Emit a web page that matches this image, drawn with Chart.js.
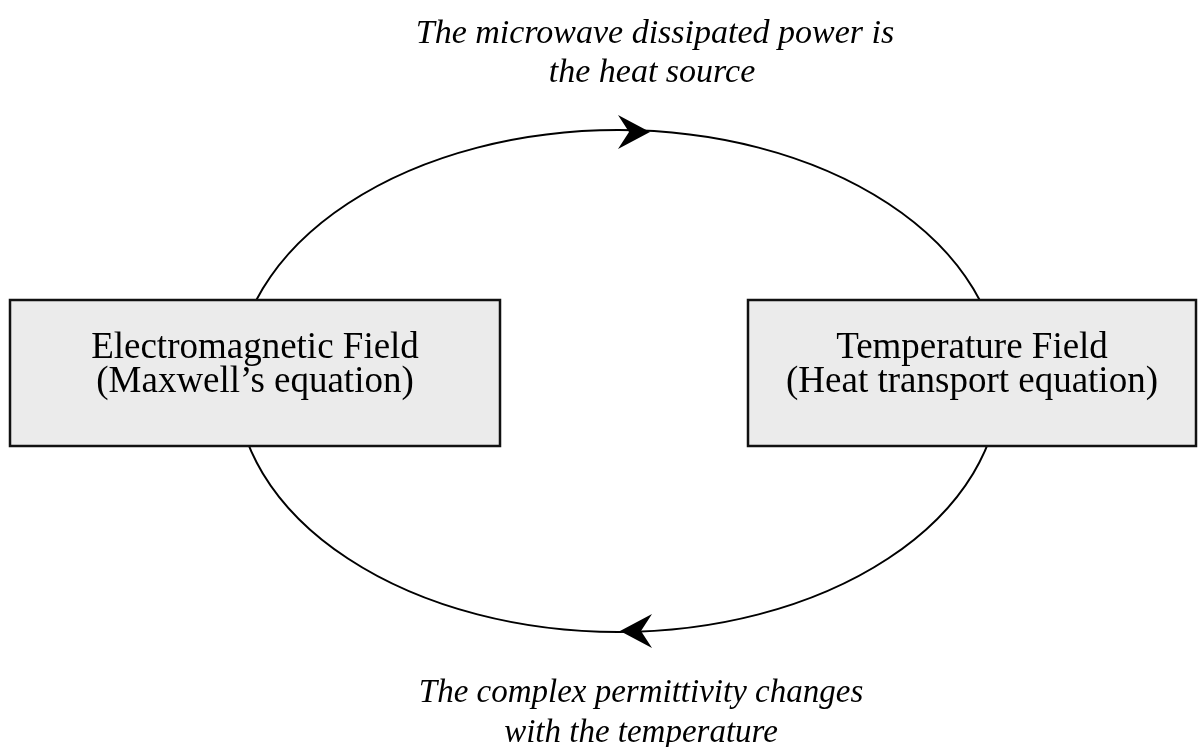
<!DOCTYPE html>
<html>
<head>
<meta charset="utf-8">
<script src="https://cdn.jsdelivr.net/npm/chart.js@4.4.1/dist/chart.umd.min.js"></script>
<style>
  html, body { margin: 0; background: #fff; }
  #wrap { width: 1198px; height: 747px; }
</style>
</head>
<body>
<div id="wrap"><canvas id="ciclo"></canvas></div>
<script>
// ---------------- datos del diagrama ----------------
const boxLabels = [
  ["Electromagnetic Field", "(Maxwell\u2019s equation)"],
  ["Temperature Field", "(Heat transport equation)"]
];
const boxLeft = [10, 748];
const boxRight = [500, 1196];
const boxTop = [300, 300];
const boxBottom = [446, 446];

const loopCenter = [618, 381];
const loopRadius = [382, 251];

const arrowTipX = [650, 620];
const arrowTipY = [132, 631];
const arrowDir = [1, -1];

const captionTop = ["The microwave dissipated power is", "the heat source"];
const captionBottom = ["The complex permittivity changes", "with the temperature"];

// ---------------- dibujo ----------------
const diagramPlugin = {
  id: 'diagrama',
  afterDatasetsDraw(chart) {
    const ctx = chart.ctx;
    const sx = chart.scales.x, sy = chart.scales.y;
    const px = v => sx.getPixelForValue(v);
    const py = v => sy.getPixelForValue(v);

    ctx.save();
    // elipse
    const cx = px(loopCenter[0]), cy = py(loopCenter[1]);
    const rx = Math.abs(px(loopCenter[0] + loopRadius[0]) - cx);
    const ry = Math.abs(py(loopCenter[1] + loopRadius[1]) - cy);
    ctx.strokeStyle = '#000';
    ctx.lineWidth = 2;
    ctx.beginPath();
    ctx.ellipse(cx, cy, rx, ry, 0, 0, Math.PI * 2);
    ctx.stroke();

    // flechas
    ctx.fillStyle = '#000';
    arrowTipX.forEach((x, i) => {
      const tx = px(x), ty = py(arrowTipY[i]), d = arrowDir[i];
      ctx.beginPath();
      ctx.moveTo(tx, ty);
      ctx.lineTo(tx - d * 32, ty - 17);
      ctx.lineTo(tx - d * 21, ty);
      ctx.lineTo(tx - d * 32, ty + 17);
      ctx.closePath();
      ctx.fill();
    });

    // cajas
    boxLabels.forEach((lines, i) => {
      const x0 = px(boxLeft[i]), x1 = px(boxRight[i]);
      const y0 = py(boxTop[i]), y1 = py(boxBottom[i]);
      ctx.fillStyle = '#ebebeb';
      ctx.fillRect(x0, y0, x1 - x0, y1 - y0);
      ctx.strokeStyle = '#111';
      ctx.lineWidth = 2.5;
      ctx.strokeRect(x0, y0, x1 - x0, y1 - y0);
      ctx.fillStyle = '#000';
      ctx.font = '37px "Liberation Serif"';
      ctx.textAlign = 'center';
      ctx.textBaseline = 'alphabetic';
      const mx = (x0 + x1) / 2;
      ctx.fillText(lines[0], mx, y0 + 58);
      ctx.fillText(lines[1], mx, y0 + 92);
    });

    // textos en cursiva
    ctx.fillStyle = '#000';
    ctx.textAlign = 'center';
    ctx.font = 'italic 34px "Liberation Serif"';
    ctx.fillText(captionTop[0], px(655), py(43));
    ctx.fillText(captionTop[1], px(652), py(82));
    ctx.font = 'italic 33px "Liberation Serif"';
    ctx.fillText(captionBottom[0], px(641), py(702));
    ctx.fillText(captionBottom[1], px(641), py(742));
    ctx.restore();
  }
};

document.fonts.load('37px "Liberation Serif"').then(() => document.fonts.load('italic 34px "Liberation Serif"')).finally(() => {
  new Chart(document.getElementById('ciclo'), {
    type: 'scatter',
    data: { datasets: [{ data: [] }] },
    options: {
      responsive: true,
      maintainAspectRatio: false,
      animation: false,
      layout: { padding: 0 },
      plugins: { legend: { display: false }, tooltip: { enabled: false } },
      scales: {
        x: { type: 'linear', min: 0, max: 1198, display: false },
        y: { type: 'linear', min: 0, max: 747, reverse: true, display: false }
      }
    },
    plugins: [diagramPlugin]
  });
});
</script>
</body>
</html>
